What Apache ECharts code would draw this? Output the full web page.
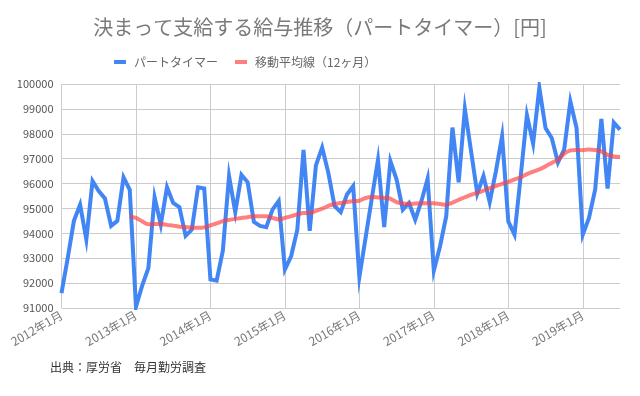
<!DOCTYPE html>
<html>
<head>
<meta charset="utf-8">
<script src="https://cdn.jsdelivr.net/npm/echarts@6/dist/echarts.min.js"></script>
<style>html,body{margin:0;padding:0;background:#fff;}#c{width:640px;height:396px;}</style>
</head>
<body>
<div id="c"></div>
<script>
const startYear = 2012;
const monthCount = 91;
const categories = [];
for (let i = 0; i < monthCount; i++) {
  categories.push((startYear + Math.floor(i / 12)) + '年' + (i % 12 + 1) + '月');
}
const partTimer = [
  91600, 93000, 94500, 95150, 93750, 96100, 95700, 95400, 94300, 94500, 96250, 95750,
  91050, 91900, 92600, 95450, 94350, 95850, 95220, 95050, 93900, 94150, 95850, 95800,
  92150, 92100, 93300, 96300, 94850, 96350, 96050, 94460, 94300, 94250, 94950, 95300,
  92550, 93080, 94150, 97350, 94100, 96730, 97450, 96430, 95100, 94850, 95560, 95900,
  92250, 93820, 95400, 96950, 94250, 96900, 96160, 94950, 95220, 94550, 95290, 96200,
  92500, 93480, 94690, 98250, 96050, 99000, 97300, 95600, 96300, 95250, 96490, 97900,
  94480, 93950, 96300, 98750, 97600, 99850, 98230, 97830, 96850, 97360, 99300, 98230,
  93950, 94620, 95760, 98600, 95800, 98450, 98170
];
const movingAvg = [
  null, null, null, null, null, null, null, null, null, null, null, 94680,
  94620, 94480, 94360, 94370, 94380, 94340, 94310, 94270, 94250, 94230, 94220, 94240,
  94320, 94400, 94490, 94540, 94580, 94620, 94650, 94690, 94690, 94690, 94620, 94560,
  94620, 94690, 94760, 94820, 94820, 94900, 94990, 95100, 95180, 95220, 95260, 95290,
  95310, 95420, 95460, 95440, 95420, 95390, 95250, 95200, 95180, 95200, 95210, 95210,
  95210, 95180, 95150, 95230, 95350, 95450, 95550, 95630, 95720, 95820, 95900, 95990,
  96070, 96170, 96250, 96380, 96480, 96570, 96690, 96830, 96960, 97200, 97330, 97350,
  97340, 97370, 97350, 97290, 97150, 97090, 97070
];
const seriesNames = ['パートタイマー', '移動平均線（12ヶ月）'];
const titleText = '決まって支給する給与推移（パートタイマー）[円]';
const sourceText = '出典：厚労省　毎月勤労調査';

const FONT = '"Noto Sans CJK JP", "Noto Sans", sans-serif';
const chart = echarts.init(document.getElementById('c'));
chart.setOption({
  animation: false,
  backgroundColor: '#fff',
  textStyle: { fontFamily: FONT },
  title: {
    text: titleText,
    left: 'center',
    top: 12,
    textStyle: { fontSize: 20, fontWeight: 'normal', color: '#7a7a7a', fontFamily: FONT }
  },
  legend: {
    top: 51,
    left: 109,
    itemGap: 17,
    itemWidth: 12,
    itemHeight: 4,
    icon: 'rect',
    textStyle: { fontSize: 12, color: '#666', fontFamily: FONT, padding: [0, 0, 0, 3] },
    data: [
      { name: seriesNames[0], itemStyle: { color: '#4285F4' } },
      { name: seriesNames[1], itemStyle: { color: '#FF7F7F' } }
    ]
  },
  grid: { left: 61.5, right: 20, top: 84, height: 224, containLabel: false },
  xAxis: {
    type: 'category',
    data: categories,
    boundaryGap: false,
    axisLine: { show: false },
    axisTick: { show: false },
    axisLabel: {
      interval: function (i) { return i % 12 === 0; },
      rotate: 30,
      fontSize: 12,
      color: '#777',
      margin: 6,
      fontFamily: FONT
    },
    splitLine: {
      show: true,
      interval: function (i) { return i % 12 === 0; },
      lineStyle: { color: '#ccc', width: 1 }
    }
  },
  yAxis: {
    type: 'value',
    min: 91000,
    max: 100000,
    interval: 1000,
    axisLine: { show: false },
    axisTick: { show: false },
    axisLabel: {
      fontSize: 11, color: '#555', margin: 8, fontFamily: FONT,
      formatter: function (v) { return String(v); }
    },
    splitLine: { lineStyle: { color: '#ccc', width: 1 } }
  },
  series: [
    {
      name: seriesNames[0],
      type: 'line',
      data: partTimer,
      showSymbol: false,
      lineStyle: { color: '#4285F4', width: 4, join: 'miter' },
      itemStyle: { color: '#4285F4' },
      z: 2
    },
    {
      name: seriesNames[1],
      type: 'line',
      data: movingAvg,
      showSymbol: false,
      smooth: 0.2,
      lineStyle: { color: 'rgba(255,60,60,0.65)', width: 4 },
      itemStyle: { color: '#FF7F7F' },
      z: 3
    }
  ],
  graphic: [
    {
      type: 'text',
      left: 50,
      top: 361,
      style: { text: sourceText, fontSize: 12, fill: '#333', fontFamily: FONT }
    }
  ]
});
</script>
</body>
</html>
